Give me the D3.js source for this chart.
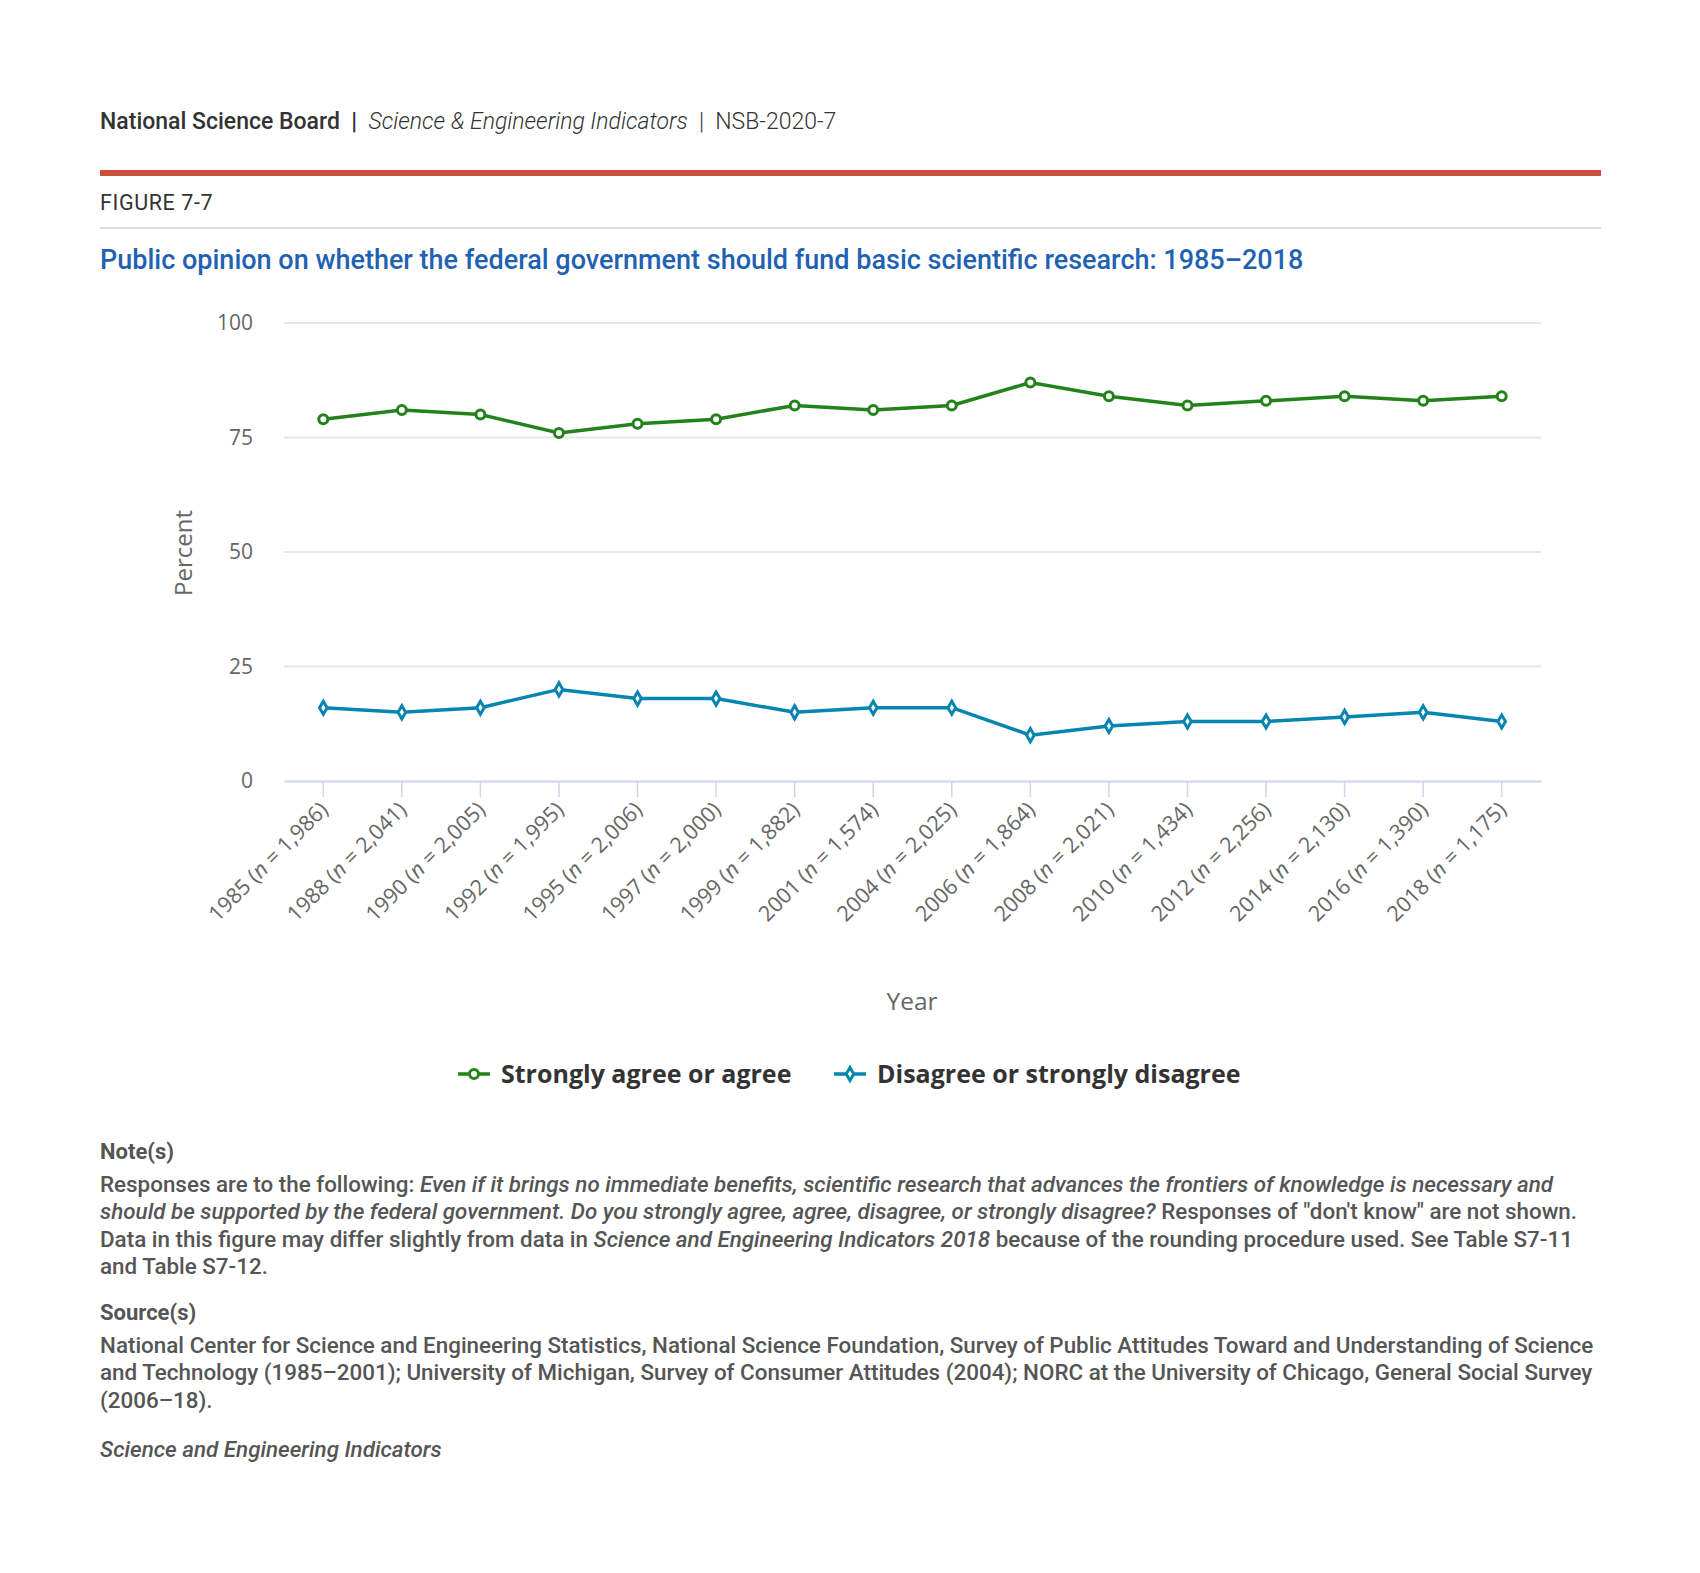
<!DOCTYPE html>
<html>
<head>
<meta charset="utf-8">
<script src="https://cdn.jsdelivr.net/npm/d3@7"></script>
<style>
  body { margin: 0; background: #fff; }
  .note { font-family: Roboto, sans-serif; }
</style>
</head>
<body>
<div id="chartArea"></div>
<script>
// data setup
var years = ["1985", "1988", "1990", "1992", "1995", "1997", "1999", "2001",
  "2004", "2006", "2008", "2010", "2012", "2014", "2016", "2018"];
var sampleSizes = ["1,986", "2,041", "2,005", "1,995", "2,006", "2,000", "1,882", "1,574",
  "2,025", "1,864", "2,021", "1,434", "2,256", "2,130", "1,390", "1,175"];
var agree = [79, 81, 80, 76, 78, 79, 82, 81, 82, 87, 84, 82, 83, 84, 83, 84];
var disagree = [16, 15, 16, 20, 18, 18, 15, 16, 16, 10, 12, 13, 13, 14, 15, 13];
var yTicks = [0, 25, 50, 75, 100];
var seriesNames = ["Strongly agree or agree", "Disagree or strongly disagree"];

var green = "#23821a", blue = "#0585b0";

var svg = d3.select("#chartArea").append("svg")
  .attr("width", 1700)
  .attr("height", 1573);

// header
var head = svg.append("text")
  .attr("x", 100).attr("y", 129)
  .style("font-family", "Roboto, sans-serif")
  .style("font-size", "23px")
  .attr("fill", "#333");
head.append("tspan").style("font-weight", 500).text("National Science Board");
head.append("tspan").style("font-weight", 700).text("\u00a0\u00a0|\u00a0\u00a0");
head.append("tspan").style("font-style", "italic").style("font-weight", 300).text("Science & Engineering Indicators");
head.append("tspan").style("font-weight", 300).text("\u00a0\u00a0|\u00a0\u00a0NSB-2020-7");

svg.append("rect").attr("x", 100).attr("y", 170).attr("width", 1501).attr("height", 6).attr("fill", "#c9503a");

svg.append("text")
  .attr("x", 100).attr("y", 210)
  .style("font-family", "Roboto, sans-serif")
  .style("font-size", "21.5px")
  .style("letter-spacing", "0.6px")
  .attr("fill", "#333")
  .text("FIGURE 7-7");

svg.append("rect").attr("x", 100).attr("y", 227).attr("width", 1501).attr("height", 2).attr("fill", "#dcdcdc");

svg.append("text")
  .attr("x", 100).attr("y", 269)
  .style("font-family", "Roboto, sans-serif")
  .style("font-size", "27px")
  .style("font-weight", 500)
  .attr("fill", "#1f62b4")
  .text("Public opinion on whether the federal government should fund basic scientific research: 1985\u20132018");

// scales
var x = d3.scaleBand().domain(years).range([284, 1541]);
var y = d3.scaleLinear().domain([0, 100]).range([781, 323]);
var cx = function(i) { return x(years[i]) + x.bandwidth() / 2; };

// gridlines
svg.append("g").selectAll("line")
  .data(yTicks.filter(function(d) { return d > 0; }))
  .enter().append("line")
  .attr("x1", 284).attr("x2", 1541)
  .attr("y1", function(d) { return y(d); })
  .attr("y2", function(d) { return y(d); })
  .attr("stroke", "#e6e6e6")
  .attr("stroke-width", 2);

// y axis labels
svg.append("g").selectAll("text")
  .data(yTicks)
  .enter().append("text")
  .attr("x", 253)
  .attr("y", function(d) { return y(d) + 7; })
  .attr("text-anchor", "end")
  .style("font-family", "'Open Sans', sans-serif")
  .style("font-size", "21px")
  .attr("fill", "#666")
  .text(function(d) { return d; });

svg.append("text")
  .attr("transform", "translate(192,553) rotate(-90)")
  .attr("text-anchor", "middle")
  .style("font-family", "'Open Sans', sans-serif")
  .style("font-size", "24px")
  .attr("fill", "#666")
  .text("Percent");

// x axis
var xAxis = svg.append("g")
  .attr("transform", "translate(0,781)")
  .call(d3.axisBottom(x).tickSize(16).tickSizeOuter(0).tickFormat(""));
xAxis.select(".domain").attr("stroke", "#ccd6eb").attr("stroke-width", 2);
xAxis.selectAll(".tick line").attr("stroke", "#ccd6eb").attr("stroke-width", 1.5);

var xl = svg.append("g").selectAll("text")
  .data(years)
  .enter().append("text")
  .attr("transform", function(d) {
    return "translate(" + (x(d) + x.bandwidth() / 2 + 6) + ",811) rotate(-45)";
  })
  .attr("text-anchor", "end")
  .style("font-family", "'Open Sans', sans-serif")
  .style("font-size", "21.5px")
  .attr("fill", "#666");
xl.append("tspan").text(function(d) { return d + " ("; });
xl.append("tspan").style("font-style", "italic").text("n");
xl.append("tspan").text(function(d, i) { return " = " + sampleSizes[i] + ")"; });

svg.append("text")
  .attr("x", 912).attr("y", 1010)
  .attr("text-anchor", "middle")
  .style("font-family", "'Open Sans', sans-serif")
  .style("font-size", "24.5px")
  .attr("fill", "#666")
  .text("Year");

// lines
var line = d3.line()
  .x(function(d, i) { return cx(i); })
  .y(function(d) { return y(d); });

svg.append("path").datum(disagree)
  .attr("d", line).attr("fill", "none")
  .attr("stroke", blue).attr("stroke-width", 3.5);
svg.append("path").datum(agree)
  .attr("d", line).attr("fill", "none")
  .attr("stroke", green).attr("stroke-width", 3.5);

// markers
svg.append("g").selectAll("circle")
  .data(agree)
  .enter().append("circle")
  .attr("cx", function(d, i) { return cx(i); })
  .attr("cy", function(d) { return y(d); })
  .attr("r", 4.5)
  .attr("fill", "#fff")
  .attr("stroke", green)
  .attr("stroke-width", 3);

var diamond = d3.symbol().type(d3.symbolDiamond).size(50);
svg.append("g").selectAll("path")
  .data(disagree)
  .enter().append("path")
  .attr("d", diamond)
  .attr("transform", function(d, i) { return "translate(" + cx(i) + "," + y(d) + ")"; })
  .attr("fill", "#fff")
  .attr("stroke", blue)
  .attr("stroke-width", 3);

// legend
var legend = [
  { name: seriesNames[0], color: green, x: 458, sym: "circle" },
  { name: seriesNames[1], color: blue, x: 834, sym: "diamond" }
];
var lg = svg.append("g").selectAll("g")
  .data(legend)
  .enter().append("g")
  .attr("transform", function(d) { return "translate(" + d.x + ",1074)"; });
lg.append("line")
  .attr("x1", 0).attr("x2", 32)
  .attr("stroke", function(d) { return d.color; })
  .attr("stroke-width", 3.5);
lg.each(function(d) {
  var g = d3.select(this);
  if (d.sym === "circle") {
    g.append("circle").attr("cx", 16).attr("r", 4.5)
      .attr("fill", "#fff").attr("stroke", d.color).attr("stroke-width", 3);
  } else {
    g.append("path").attr("d", diamond).attr("transform", "translate(16,0)")
      .attr("fill", "#fff").attr("stroke", d.color).attr("stroke-width", 3);
  }
});
lg.append("text")
  .attr("x", 43).attr("y", 9)
  .style("font-family", "'Open Sans', sans-serif")
  .style("font-size", "25px")
  .style("font-weight", 700)
  .attr("fill", "#333")
  .text(function(d) { return d.name; });

// notes
function block(yy, rows) {
  rows.forEach(function(row, k) {
    var t = svg.append("text")
      .attr("class", "note")
      .attr("x", 100).attr("y", yy + k * 27.4)
      .style("font-size", "22.4px")
      .style("font-weight", 500)
      .attr("fill", "#555");
    row.forEach(function(seg) {
      t.append("tspan")
        .style("font-style", seg[1] ? "italic" : "normal")
        .text(seg[0]);
    });
  });
}

svg.append("text").attr("class", "note")
  .attr("x", 100).attr("y", 1159)
  .style("font-size", "22px").style("font-weight", 700).attr("fill", "#555")
  .text("Note(s)");
block(1192, [
  [["Responses are to the following: ", 0], ["Even if it brings no immediate benefits, scientific research that advances the frontiers of knowledge is necessary and", 1]],
  [["should be supported by the federal government. Do you strongly agree, agree, disagree, or strongly disagree?", 1], [" Responses of \"don't know\" are not shown.", 0]],
  [["Data in this figure may differ slightly from data in ", 0], ["Science and Engineering Indicators 2018", 1], [" because of the rounding procedure used. See Table S7-11", 0]],
  [["and Table S7-12.", 0]]
]);

svg.append("text").attr("class", "note")
  .attr("x", 100).attr("y", 1320)
  .style("font-size", "22px").style("font-weight", 700).attr("fill", "#555")
  .text("Source(s)");
block(1353, [
  [["National Center for Science and Engineering Statistics, National Science Foundation, Survey of Public Attitudes Toward and Understanding of Science", 0]],
  [["and Technology (1985\u20132001); University of Michigan, Survey of Consumer Attitudes (2004); NORC at the University of Chicago, General Social Survey", 0]],
  [["(2006\u201318).", 0]]
]);

block(1457, [[["Science and Engineering Indicators", 1]]]);
</script>
</body>
</html>
